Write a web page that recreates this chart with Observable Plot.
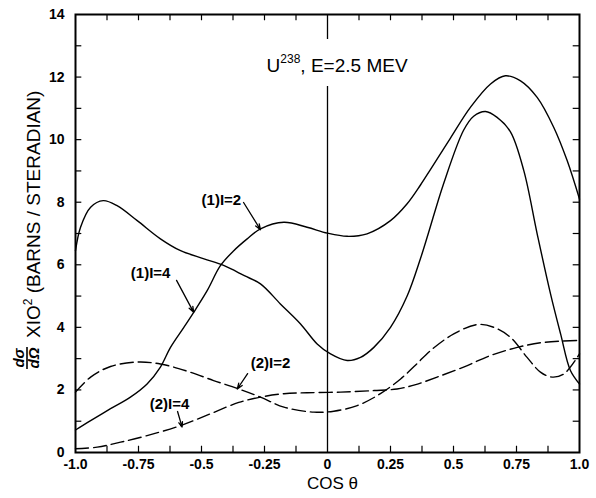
<!DOCTYPE html>
<html><head><meta charset="utf-8">
<script src="https://cdn.jsdelivr.net/npm/d3@7"></script>
<script src="https://cdn.jsdelivr.net/npm/@observablehq/plot@0.6"></script>
<style>body{margin:0;background:#fff} #chart{width:596px;height:498px}</style>
</head><body><div id="chart"></div>
<script>
// Solid curve with left peak ~8 and peak ~11 at cos≈0.63
const cosA = [-1, -0.98, -0.94, -0.89, -0.835, -0.755, -0.663, -0.583, -0.49, -0.41, -0.33, -0.266, -0.187, -0.107, -0.041, 0.012, 0.078, 0.131, 0.184, 0.25, 0.316, 0.369, 0.4, 0.461, 0.54, 0.58, 0.627, 0.673, 0.726, 0.779, 0.832, 0.885, 0.925, 0.964, 1.0];
const valA = [6.45, 7.2, 7.84, 8.05, 7.89, 7.41, 6.83, 6.45, 6.19, 5.97, 5.65, 5.39, 4.75, 4.11, 3.47, 3.15, 2.94, 3.04, 3.36, 4.0, 5.0, 6.2, 7.0, 8.6, 10.3, 10.75, 10.9, 10.71, 10.25, 9.01, 6.99, 5.07, 3.79, 2.62, 2.19];
// Solid curve rising from 0.7 to peak ~12 at cos≈0.7
const cosB = [-1, -0.94, -0.861, -0.782, -0.716, -0.663, -0.623, -0.57, -0.531, -0.477, -0.425, -0.372, -0.32, -0.266, -0.173, -0.081, 0.0, 0.078, 0.157, 0.25, 0.316, 0.369, 0.409, 0.488, 0.567, 0.647, 0.706, 0.766, 0.832, 0.898, 0.951, 1.0];
const valB = [0.72, 1.02, 1.40, 1.77, 2.19, 2.73, 3.36, 4.0, 4.48, 5.18, 5.97, 6.45, 6.82, 7.15, 7.36, 7.2, 7.01, 6.91, 6.99, 7.41, 7.95, 8.55, 9.05, 10.05, 11.03, 11.78, 12.04, 11.88, 11.35, 10.39, 9.33, 8.1];
// Dashed curve (2) I=2
const cosC = [-1, -0.94, -0.861, -0.755, -0.663, -0.557, -0.452, -0.352, -0.266, -0.173, -0.054, 0.025, 0.118, 0.21, 0.29, 0.35, 0.409, 0.501, 0.594, 0.66, 0.726, 0.792, 0.845, 0.891, 0.938, 1.0];
const valC = [1.93, 2.41, 2.75, 2.89, 2.83, 2.60, 2.30, 2.03, 1.77, 1.45, 1.29, 1.32, 1.50, 1.88, 2.35, 2.8, 3.26, 3.79, 4.09, 4.0, 3.68, 3.04, 2.57, 2.41, 2.51, 3.15];
// Dashed curve (2) I=4
const cosD = [-1, -0.914, -0.821, -0.716, -0.583, -0.464, -0.352, -0.266, -0.173, -0.081, 0.052, 0.184, 0.276, 0.35, 0.435, 0.54, 0.647, 0.753, 0.858, 1.0];
const valD = [0.12, 0.17, 0.33, 0.54, 0.86, 1.24, 1.6, 1.77, 1.88, 1.91, 1.93, 1.98, 2.03, 2.17, 2.41, 2.73, 3.10, 3.36, 3.52, 3.58];

const xTickValues = [-1, -0.75, -0.5, -0.25, 0, 0.25, 0.5, 0.75, 1];
const xTickLabels = ["-1.0", "-0.75", "-0.5", "-0.25", "0", "0.25", "0.5", "0.75", "1.0"];
const xMinorTicks = [-0.875, -0.75, -0.625, -0.5, -0.375, -0.25, -0.125, 0.125, 0.25, 0.375, 0.5, 0.625, 0.75, 0.875];
const yTickValues = [0, 2, 4, 6, 8, 10, 12, 14];
const yMinorTicks = [1, 2, 3, 4, 5, 6, 7, 8, 9, 10, 11, 12, 13];

const annotLabels = ["(1)I=2", "(1)I=4", "(2)I=2", "(2)I=4"];
const annotX = [-0.421, -0.702, -0.226, -0.627];
const annotY = [8.08, 5.72, 2.84, 1.53];
const arrowFromX = [-0.333, -0.599, -0.317, -0.595];
const arrowFromY = [7.99, 5.50, 2.52, 1.31];
const arrowToX = [-0.266, -0.531, -0.358, -0.577];
const arrowToY = [7.12, 4.48, 2.03, 0.81];

const titleText = ["U", "238", ", E=2.5 MEV"];
const xLabel = "COS θ";

const rows = (cs, vs) => cs.map((c, i) => ({c, v: vs[i]}));
const annots = annotLabels.map((t, i) => ({t, x: annotX[i], y: annotY[i], x1: arrowFromX[i], y1: arrowFromY[i], x2: arrowToX[i], y2: arrowToY[i]}));
const xLabelMap = new Map(xTickValues.map((d, i) => [d, xTickLabels[i]]));

const font = "'Liberation Sans', Arial, Helvetica, sans-serif";
const plot = Plot.plot({
  width: 596, height: 498,
  marginLeft: 75, marginRight: 17, marginTop: 14, marginBottom: 46,
  style: {fontFamily: font, background: "white", color: "black"},
  x: {domain: [-1, 1]},
  y: {domain: [0, 14]},
  marks: [
    Plot.ruleX(xMinorTicks, {x: d => d, y1: 0, y2: 0.2, strokeWidth: 1.2}),
    Plot.ruleX(xMinorTicks, {x: d => d, y1: 14, y2: 13.8, strokeWidth: 1.2}),
    Plot.ruleY(yMinorTicks, {y: d => d, x1: -1, x2: -0.975, strokeWidth: 1.2}),
    Plot.ruleY(yMinorTicks, {y: d => d, x1: 1, x2: 0.975, strokeWidth: 1.2}),
    Plot.ruleX([0], {y1: 0, y2: 11.7, strokeWidth: 1.3}),
    Plot.ruleX([0], {y1: 13.2, y2: 14, strokeWidth: 1.3}),
    Plot.line(rows(cosA, valA), {x: "c", y: "v", curve: "catmull-rom", strokeWidth: 1.4}),
    Plot.line(rows(cosB, valB), {x: "c", y: "v", curve: "catmull-rom", strokeWidth: 1.4}),
    Plot.line(rows(cosC, valC), {x: "c", y: "v", curve: "catmull-rom", strokeWidth: 1.4, strokeDasharray: "13,5"}),
    Plot.line(rows(cosD, valD), {x: "c", y: "v", curve: "catmull-rom", strokeWidth: 1.4, strokeDasharray: "13,5"}),
    Plot.arrow(annots, {x1: "x1", y1: "y1", x2: "x2", y2: "y2", headLength: 7, headAngle: 40, strokeWidth: 1.3}),
    Plot.text(annots, {x: "x", y: "y", text: "t", fontWeight: "bold", fontSize: 15, letterSpacing: 0.8}),
    Plot.frame({stroke: "black", strokeWidth: 2}),
    Plot.axisX(xTickValues, {tickSize: 0, tickPadding: 7, tickFormat: d => xLabelMap.get(d), fontWeight: "bold", fontSize: 14, label: null}),
    Plot.axisY(yTickValues, {tickSize: 0, tickPadding: 11, fontWeight: "bold", fontSize: 14, label: null}),
    Plot.text([xLabel], {frameAnchor: "bottom", dx: 5, dy: 36, fontSize: 17})
  ]
});
document.getElementById("chart").appendChild(plot);

const svg = d3.select(plot);
const sx = plot.scale("x"), sy = plot.scale("y");
// Title
const title = svg.append("text")
  .attr("x", sx.apply(0.04)).attr("y", sy.apply(12.15))
  .attr("text-anchor", "middle").attr("font-size", 19).attr("font-family", font);
title.append("tspan").text(titleText[0]);
title.append("tspan").attr("font-size", 12).attr("dy", -9).text(titleText[1]);
title.append("tspan").attr("dy", 9).text(titleText[2]);

// Y axis label (rotated)
const g = svg.append("g").attr("transform", "translate(27,236) rotate(-90)")
  .attr("font-family", font).attr("text-anchor", "start");
g.append("text").attr("x", -122).attr("y", -3).attr("text-anchor", "middle")
  .attr("font-size", 15).attr("font-weight", "bold").attr("font-style", "italic").text("dσ");
g.append("line").attr("x1", -133).attr("x2", -111).attr("y1", 0).attr("y2", 0)
  .attr("stroke", "black").attr("stroke-width", 1.6);
g.append("text").attr("x", -122).attr("y", 12).attr("text-anchor", "middle")
  .attr("font-size", 15).attr("font-weight", "bold").attr("font-style", "italic").text("dΩ");
const yl = g.append("text").attr("x", -102).attr("y", 13).attr("font-size", 19).attr("text-anchor", "start");
yl.append("tspan").text("XIO");
yl.append("tspan").attr("font-size", 12).attr("dy", -8).text("2");
yl.append("tspan").attr("dy", 8).text(" (BARNS / STERADIAN)");
</script>
</body></html>
